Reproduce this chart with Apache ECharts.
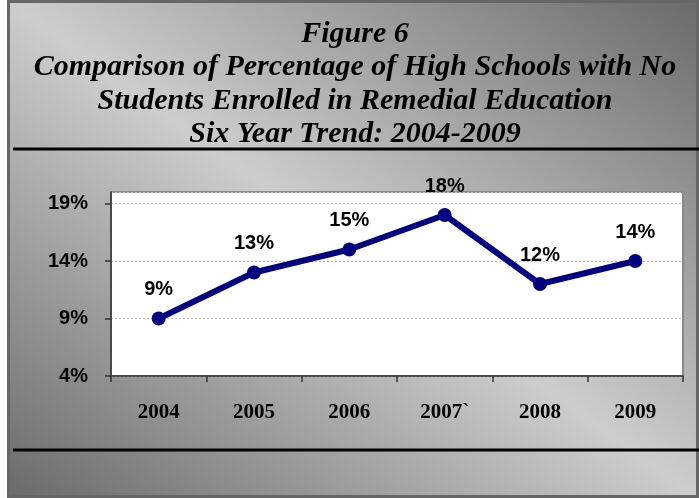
<!DOCTYPE html>
<html>
<head>
<meta charset="utf-8">
<script src="https://cdn.jsdelivr.net/npm/echarts@6/dist/echarts.min.js"></script>
<style>
  html, body { margin: 0; padding: 0; background: #ffffff; }
  #chart { width: 699px; height: 498px; }
</style>
</head>
<body>
<div id="chart"></div>
<script>
// Survey years and share of high schools with no remedial enrollment (%)
const years = ['2004', '2005', '2006', '2007`', '2008', '2009'];
const percentNoRemedial = [9, 13, 15, 18, 12, 14];
const yTicks = { min: 4, max: 20, interval: 5 };
const titleLines = [
  'Figure 6',
  'Comparison of Percentage of High Schools with No',
  'Students Enrolled in Remedial Education',
  'Six Year Trend: 2004-2009'
];

const W = 699, H = 498;
// Frame rectangle (leaves a white strip on the left)
const fx = 7, fy = 0, fw = W - fx, fh = H;

// Gradient: dark at upper-right and lower-left corners, light along the other diagonal
const cx = fx + fw / 2, cy = fy + fh / 2;
const nrm = Math.sqrt(fw * fw + fh * fh);
const dx = fh / nrm, dy = -fw / nrm;
const half = fw * fh / nrm;
const bgGradient = new echarts.graphic.LinearGradient(0, 0, 0, 0, [
  { offset: 0, color: '#6a6a6a' },
  { offset: 0.5, color: '#cdcdcd' },
  { offset: 1, color: '#6a6a6a' }
], true);
bgGradient.x = cx + dx * half; bgGradient.y = cy + dy * half;
bgGradient.x2 = cx - dx * half; bgGradient.y2 = cy - dy * half;

// One centred text element per title line
const titleCenterX = 355;
const titleFirstY = 34;
const titleLineStep = 33.5;
const titleElements = titleLines.map(function (line, i) {
  return {
    type: 'text', silent: true,
    x: titleCenterX,
    y: titleFirstY + i * titleLineStep,
    style: {
      text: line,
      font: 'italic bold 30px "Liberation Serif", "Times New Roman", serif',
      fill: '#000000',
      align: 'center',
      verticalAlign: 'middle'
    }
  };
});

const chart = echarts.init(document.getElementById('chart'), null, { renderer: 'canvas' });

const option = {
  animation: false,
  backgroundColor: '#ffffff',
  graphic: [
    {
      type: 'rect', z: -10, silent: true,
      shape: { x: fx + 1.5, y: fy + 1.5, width: fw - 3, height: fh - 3 },
      style: { fill: bgGradient, stroke: '#666666', lineWidth: 3 }
    },
    {
      type: 'line', z: -5, silent: true,
      shape: { x1: 13, y1: 149, x2: W, y2: 149 },
      style: { stroke: '#000000', lineWidth: 3 }
    },
    {
      type: 'line', z: -5, silent: true,
      shape: { x1: 13, y1: 450, x2: W, y2: 450 },
      style: { stroke: '#000000', lineWidth: 3 }
    }
  ].concat(titleElements),
  grid: {
    left: 111, top: 192, right: 16, bottom: 122,
    show: true,
    backgroundColor: '#ffffff',
    borderColor: '#8a8a8a',
    borderWidth: 2
  },
  xAxis: {
    type: 'category',
    data: years,
    boundaryGap: true,
    axisLine: { show: true, lineStyle: { color: '#333333', width: 1.5 } },
    axisTick: { show: true, inside: false, length: 6, lineStyle: { color: '#333333', width: 1.5 } },
    axisLabel: {
      margin: 26,
      color: '#000000',
      fontFamily: '"Liberation Serif", "Times New Roman", serif',
      fontWeight: 'bold',
      fontSize: 21
    },
    splitLine: { show: false }
  },
  yAxis: {
    type: 'value',
    min: yTicks.min,
    max: yTicks.max,
    interval: yTicks.interval,
    axisLine: { show: true, lineStyle: { color: '#333333', width: 1.5 } },
    axisTick: { show: true, inside: false, length: 6, lineStyle: { color: '#333333', width: 1.5 } },
    axisLabel: {
      margin: 23,
      color: '#000000',
      fontFamily: '"Liberation Sans", Arial, sans-serif',
      fontWeight: 'bold',
      fontSize: 20,
      formatter: function (v) { return v + '%'; },
      showMaxLabel: false
    },
    splitLine: { show: true, lineStyle: { color: '#c4c4c4', type: [2, 2], width: 1 } }
  },
  series: [
    {
      type: 'line',
      data: percentNoRemedial,
      symbol: 'circle',
      symbolSize: 14,
      lineStyle: { color: '#000080', width: 6 },
      itemStyle: { color: '#000080' },
      label: {
        show: true,
        position: 'top',
        distance: 12,
        color: '#000000',
        fontFamily: '"Liberation Sans", Arial, sans-serif',
        fontWeight: 'bold',
        fontSize: 20,
        formatter: function (p) { return p.value + '%'; }
      }
    }
  ]
};

chart.setOption(option);
</script>
</body>
</html>
